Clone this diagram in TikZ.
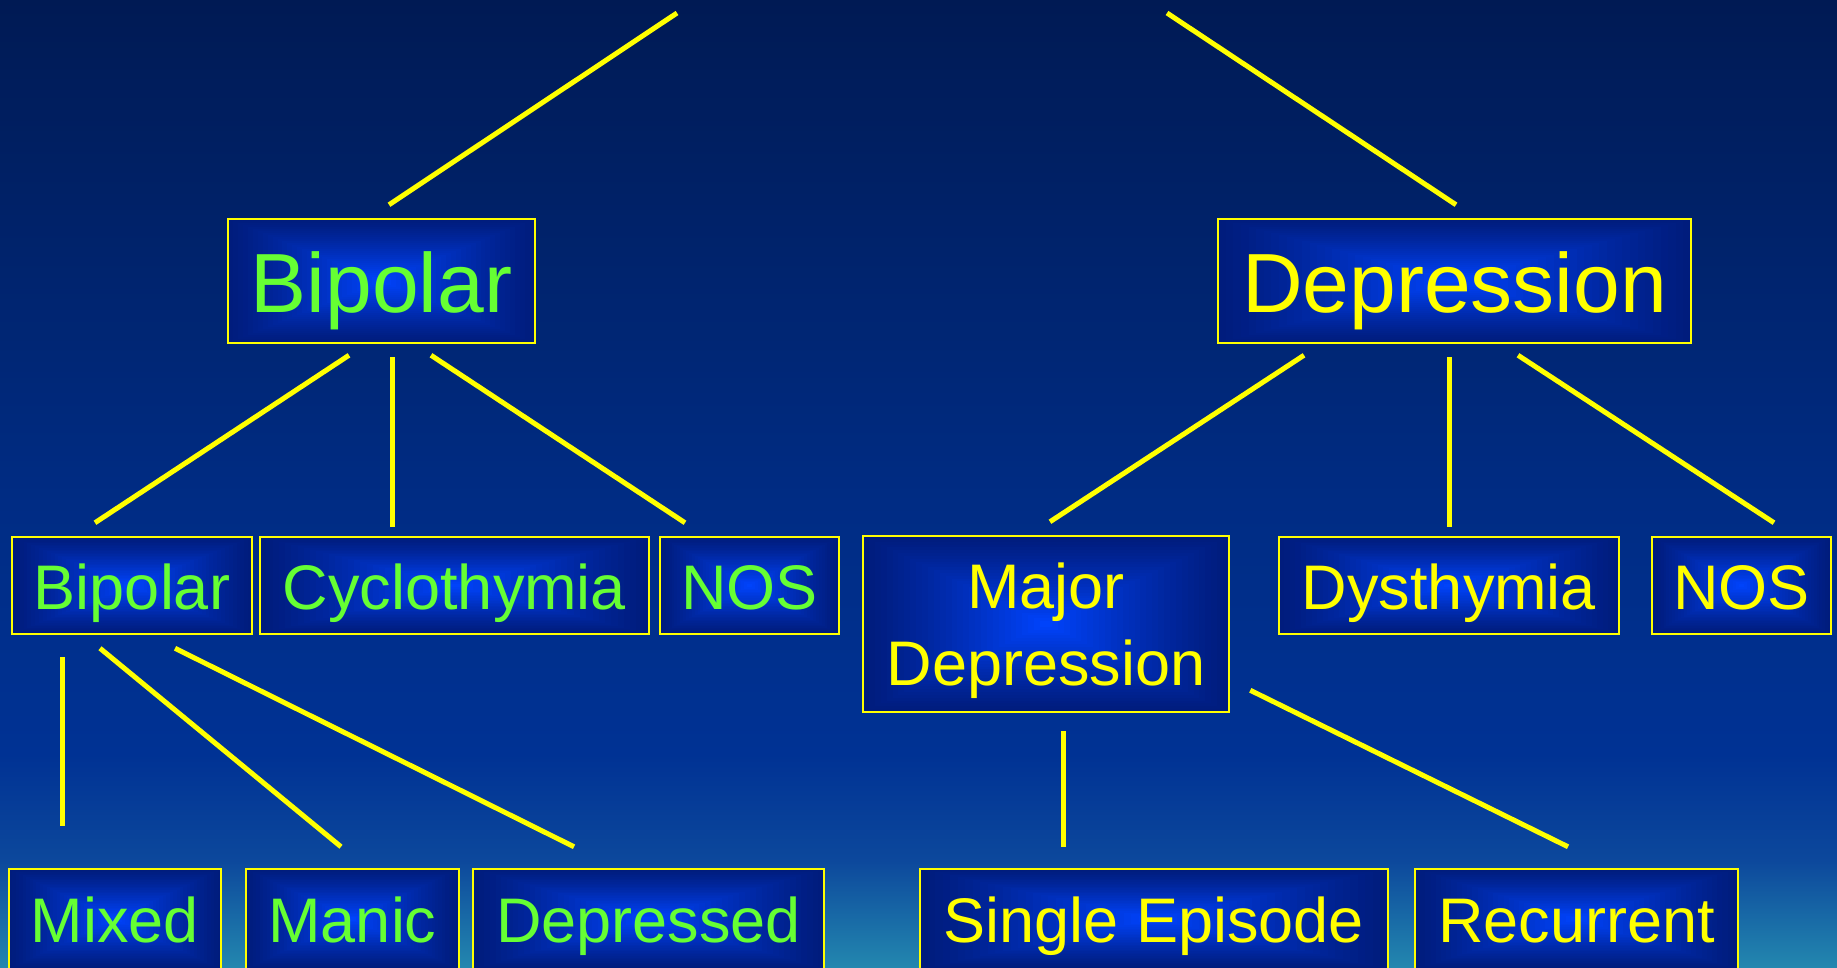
\documentclass[tikz,border=0pt]{standalone}
\usepackage{fontspec}
\setmainfont{Liberation Sans}
\usetikzlibrary{calc}
\definecolor{bgtop}{RGB}{0,26,84}
\definecolor{bgmid}{RGB}{0,44,132}
\definecolor{bglow}{RGB}{0,50,148}
\definecolor{bgband}{RGB}{12,72,156}
\definecolor{bgbot}{RGB}{35,135,175}
\definecolor{glowc}{RGB}{0,68,255}
\definecolor{glowe}{RGB}{0,28,125}
\definecolor{ylw}{RGB}{255,255,0}
\definecolor{grn}{RGB}{102,255,51}
\pgfdeclareverticalshading{bgshade}{100bp}{color(0bp)=(bgbot); color(25bp)=(bgbot); color(30.5bp)=(bgband); color(36bp)=(bglow); color(49bp)=(bgmid); color(75bp)=(bgtop); color(100bp)=(bgtop)}
\tikzset{
  box/.style={draw=ylw, line width=2.5pt, fill=glowe, inner sep=0pt, minimum height=97pt,
    path picture={
      \foreach \k in {1,...,30}{
        \pgfmathsetmacro{\s}{1-\k/31}
        \pgfmathsetmacro{\p}{100*(\k/31)^1.2}
        \fill[glowc!\p!glowe] ($(path picture bounding box.center)!\s!(path picture bounding box.south west)$) rectangle ($(path picture bounding box.center)!\s!(path picture bounding box.north east)$);
      }
      \draw[ylw, line width=2.5pt] (path picture bounding box.south west) rectangle (path picture bounding box.north east);
    }},
  big/.style={font=\fontsize{84}{100}\selectfont, anchor=base, inner sep=0pt},
  med/.style={font=\fontsize{63}{76}\selectfont, anchor=base, inner sep=0pt},
  gtxt/.style={text=grn},
  ytxt/.style={text=ylw},
  conn/.style={draw=ylw, line width=5pt}
}
\begin{document}
\begin{tikzpicture}[x=1pt, y=-1pt]
\shade[shading=bgshade] (0,0) rectangle (1837,967);
\useasboundingbox (0,0) rectangle (1837,967);
% level 1
\node[box, minimum width=307pt, minimum height=124pt] (bipA) at (381.5,281) {};
\node[box, minimum width=473pt, minimum height=124pt] (dep) at (1454.5,281) {};
% level 2
\node[box, minimum width=240pt] (bipB) at (132,585.5) {};
\node[box, minimum width=389pt] (cyc) at (454.5,585.5) {};
\node[box, minimum width=179pt] (nosA) at (749.5,585.5) {};
\node[box, minimum width=366pt, minimum height=176pt] (md) at (1046,624) {};
\node[box, minimum width=340pt] (dys) at (1449,585.5) {};
\node[box, minimum width=179pt] (nosB) at (1741.5,585.5) {};
% level 3
\node[box, minimum width=212pt, minimum height=100pt] (mix) at (115,919) {};
\node[box, minimum width=213pt, minimum height=100pt] (man) at (352.5,919) {};
\node[box, minimum width=351pt, minimum height=100pt] (dpd) at (648.5,919) {};
\node[box, minimum width=468pt, minimum height=100pt] (se) at (1154,919) {};
\node[box, minimum width=323pt, minimum height=100pt] (rec) at (1576.5,919) {};
% texts
\node[big, gtxt] (t-bipA) at ([yshift=-31pt]bipA.center) {Bipolar};
\node[big, ytxt] (t-dep) at ([yshift=-31pt]dep.center) {Depression};
\node[med, gtxt] (t-bipB) at ([yshift=-23.5pt]bipB.center) {Bipolar};
\node[med, gtxt] (t-cyc) at ([yshift=-23.5pt]cyc.center) {Cyclothymia};
\node[med, gtxt] (t-nosA) at ([yshift=-23.5pt]nosA.center) {NOS};
\node[med, ytxt] (t-md1) at ([yshift=16pt]md.center) {Major};
\node[med, ytxt] (t-md2) at ([yshift=-61pt]md.center) {Depression};
\node[med, ytxt] (t-dys) at ([yshift=-23.5pt]dys.center) {Dysthymia};
\node[med, ytxt] (t-nosB) at ([yshift=-23.5pt]nosB.center) {NOS};
\node[med, gtxt] (t-mix) at ([yshift=-23pt]mix.center) {Mixed};
\node[med, gtxt] (t-man) at ([yshift=-23pt]man.center) {Manic};
\node[med, gtxt] (t-dpd) at ([yshift=-23pt]dpd.center) {Depressed};
\node[med, ytxt] (t-se) at ([yshift=-23pt]se.center) {Single Episode};
\node[med, ytxt] (t-rec) at ([yshift=-23pt]rec.center) {Recurrent};
% free ends at top
\coordinate (upL) at (677,13);
\coordinate (upR) at (1167,13);
% connectors
\draw[conn] (upL) -- ([shift={(7.5,-13)}]bipA.north);
\draw[conn] (upR) -- ([shift={(1.5,-13)}]dep.north);
\draw[conn] ([shift={(-32.5,11)}]bipA.south) -- ([shift={(-37,-13)}]bipB.north);
\draw[conn] ([shift={(10.5,13)}]bipA.south) -- ([shift={(-62.5,-9)}]cyc.north);
\draw[conn] ([shift={(49.5,11)}]bipA.south) -- ([shift={(-64.5,-13)}]nosA.north);
\draw[conn] ([shift={(-150.5,11)}]dep.south) -- ([shift={(4,-13)}]md.north);
\draw[conn] ([shift={(-5.5,13)}]dep.south) -- ([shift={(0,-9)}]dys.north);
\draw[conn] ([shift={(63.5,11)}]dep.south) -- ([shift={(32.5,-13)}]nosB.north);
\draw[conn] ([shift={(-70,22)}]bipB.south) -- ([shift={(-53,-42)}]mix.north);
\draw[conn] ([shift={(-32,13)}]bipB.south) -- ([shift={(-11.5,-21)}]man.north);
\draw[conn] ([shift={(43,13)}]bipB.south) -- ([shift={(-74.5,-21)}]dpd.north);
\draw[conn] ([shift={(17,18)}]md.south) -- ([shift={(-91,-21)}]se.north);
\draw[conn] ([shift={(20,-23)}]md.south east) -- ([shift={(-8.5,-21)}]rec.north);
\end{tikzpicture}
\end{document}
